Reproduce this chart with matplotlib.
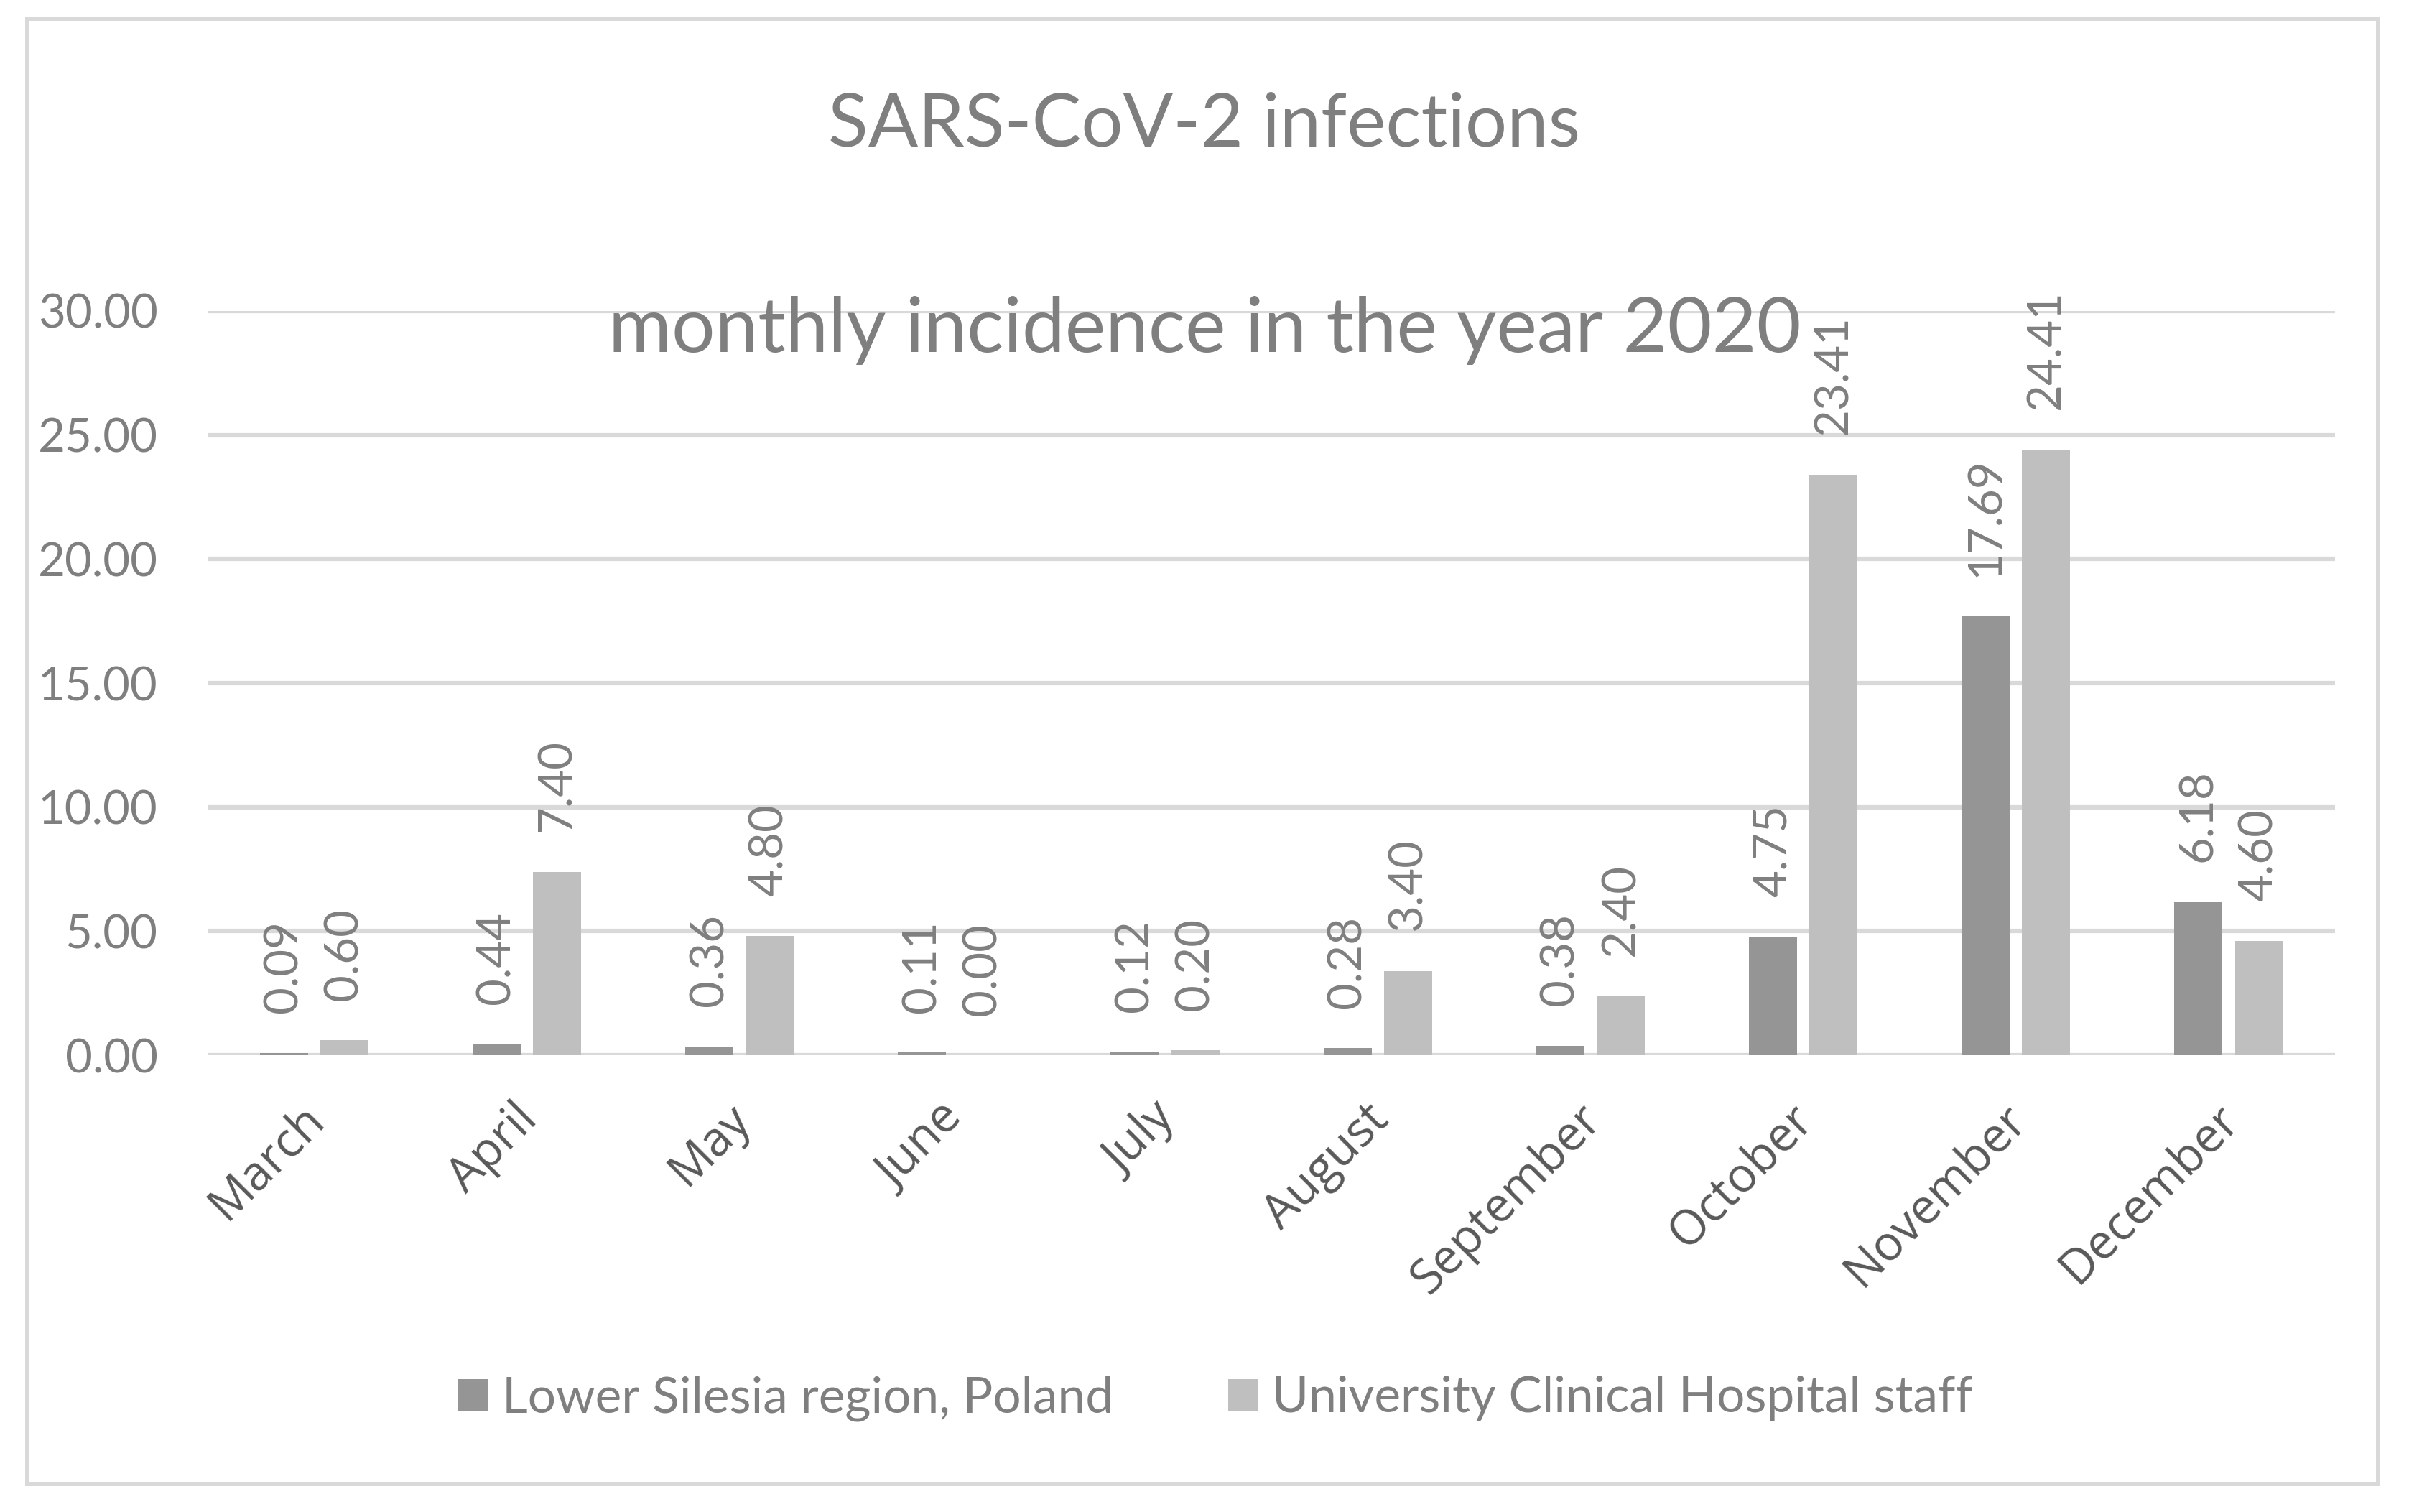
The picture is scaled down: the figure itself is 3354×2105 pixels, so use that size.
import matplotlib.pyplot as plt
import matplotlib.transforms as mtransforms
import numpy as np
from matplotlib.patches import Rectangle

plt.rcParams['font.family'] = ['Lato', 'DejaVu Sans']

months = ['March', 'April', 'May', 'June', 'July', 'August',
          'September', 'October', 'November', 'December']
silesia = [0.09, 0.44, 0.36, 0.11, 0.12, 0.28, 0.38, 4.75, 17.69, 6.18]
hospital = [0.60, 7.40, 4.80, 0.00, 0.20, 3.40, 2.40, 23.41, 24.41, 4.60]

text_col = '#7f7f7f'
month_col = '#595959'
grid_col = '#d9d9d9'
dark = '#959595'
light = '#bfbfbf'

fig = plt.figure(figsize=(33.54, 21.05), dpi=100)
ax = fig.add_axes([0.0862, 0.3021, 0.9693 - 0.0862, 0.7943 - 0.3021])

# chart border
fig.patches.append(Rectangle((0.0113, 0.0185), 0.9872 - 0.0113, 0.9876 - 0.0185,
                             transform=fig.transFigure, fill=False,
                             edgecolor=grid_col, linewidth=4.3))

x = np.arange(len(months))
w = 0.226
off = 0.142
b1 = ax.bar(x - off, silesia, w, color=dark, label='Lower Silesia region, Poland', zorder=3)
b2 = ax.bar(x + off, hospital, w, color=light, label='University Clinical Hospital staff', zorder=3)

for bars, vals in ((b1, silesia), (b2, hospital)):
    for rect, v in zip(bars, vals):
        ax.annotate(f'{v:.2f}', (rect.get_x() + rect.get_width() / 2, v),
                    xytext=(0, 40), textcoords='offset points',
                    rotation=90, ha='center', va='bottom',
                    fontsize=47, color=text_col)

ax.set_xlim(-0.5, len(months) - 0.5)
ax.set_ylim(0, 30)
ax.set_yticks(np.arange(0, 31, 5))
ax.set_yticklabels([f'{t:.2f}' for t in np.arange(0, 31, 5)], fontsize=47, color=text_col)
ax.yaxis.grid(True, color=grid_col, linewidth=4.5, zorder=0)
ax.set_axisbelow(True)
for s in ax.spines.values():
    s.set_visible(False)
ax.tick_params(axis='y', length=0, pad=50)
ax.tick_params(axis='x', length=0, pad=40)
ax.set_xticks(x)
ax.set_xticklabels(months, rotation=45, ha='right', va='top',
                   rotation_mode='anchor', fontsize=48, color=month_col,
                   family=['Open Sans', 'DejaVu Sans'])
shift = mtransforms.ScaledTranslation(-0.19, 0, fig.dpi_scale_trans)
for lab in ax.get_xticklabels():
    lab.set_transform(lab.get_transform() + shift)

fig.text(0.5, 0.917, 'SARS-CoV-2 infections', ha='center', va='center',
         fontsize=74, color=text_col)
fig.text(0.5, 0.7815, 'monthly incidence in the year 2020', ha='center', va='center',
         fontsize=77, color=text_col)

fig.legend(handles=[b1, b2], loc='center', bbox_to_anchor=(0.5045, 0.075),
           ncol=2, frameon=False, fontsize=50, labelcolor=text_col,
           handlelength=0.59, handleheight=0.6, handletextpad=0.29, columnspacing=2.3)

fig.savefig('out.png', dpi=100)
